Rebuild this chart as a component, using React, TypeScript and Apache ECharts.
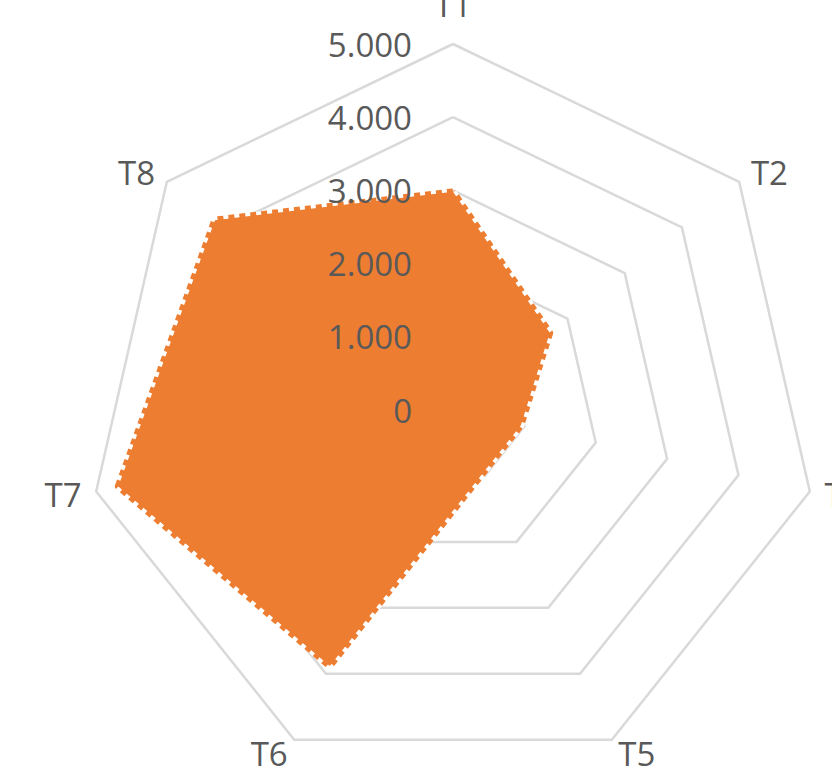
import { useEffect, useRef } from 'react';
import * as echarts from 'echarts';

const categories = ['T1', 'T2', 'T3', 'T5', 'T6', 'T7', 'T8'];
const values = [2980, 1690, 950, 950, 3880, 4690, 4160];
const maxValue = 5000;
const tickInterval = 1000;

const fmt = (v: number) => (v === 0 ? '0' : String(v).replace(/\B(?=(\d{3})+(?!\d))/g, '.'));

export default function App() {
  const ref = useRef<HTMLDivElement>(null);
  useEffect(() => {
    document.body.style.margin = '0';
    const chart = echarts.init(ref.current!, null, { renderer: 'svg' });
    const font = '"Open Sans", sans-serif';
    // ECharts lays radar axes counter-clockwise; reorder so they run clockwise like the reference
    const order = [0, ...categories.map((_, i) => i).slice(1).reverse()];
    const names = order.map((i) => categories[i]);
    const vals = order.map((i) => values[i]);
    const splitNumber = maxValue / tickInterval;

    chart.setOption({
      animation: false,
      backgroundColor: '#ffffff',
      radar: [
        {
          z: 0,
          center: [453, 410],
          radius: 366,
          startAngle: 90,
          splitNumber,
          shape: 'polygon',
          axisName: {
            color: '#595959',
            fontSize: 33,
            fontFamily: font,
            formatter: (name: string) => (name === categories[0] ? `{top|${name}}` : name),
            rich: {
              top: { color: '#595959', fontSize: 33, fontFamily: font, padding: [0, 0, 8, 0] },
            },
          },
          axisNameGap: 15,
          axisLine: { show: false },
          axisTick: { show: false },
          axisLabel: { show: false },
          splitLine: { lineStyle: { color: '#d9d9d9', width: 2.5 } },
          splitArea: { show: false },
          indicator: names.map((name) => ({ name, min: 0, max: maxValue })),
        },
        {
          z: 10,
          center: [453, 410],
          radius: 366,
          startAngle: 90,
          splitNumber,
          shape: 'polygon',
          axisName: { show: false },
          axisLine: { show: false },
          axisTick: { show: false },
          axisLabel: { show: false },
          splitLine: { show: false },
          splitArea: { show: false },
          indicator: names.map((name, i) => ({
            name,
            min: 0,
            max: maxValue,
            ...(i === 0
              ? {
                  axisLabel: {
                    show: true,
                    color: '#595959',
                    fontSize: 33,
                    fontFamily: font,
                    margin: 41,
                    formatter: (v: number) => fmt(v),
                  },
                }
              : {}),
          })),
        },
      ],
      series: [
        {
          type: 'radar',
          radarIndex: 0,
          z: 2,
          symbol: 'none',
          areaStyle: { color: '#ED7D31', opacity: 1 },
          lineStyle: { color: '#ffffff', width: 7, type: 'solid' },
          data: [{ value: vals, name: 'Serie' }],
        },
        {
          type: 'radar',
          radarIndex: 0,
          z: 3,
          symbol: 'none',
          lineStyle: { color: '#ED7D31', width: 7, type: [6, 5], cap: 'butt' },
          data: [{ value: vals, name: 'Serie' }],
        },
      ],
    });
    return () => chart.dispose();
  }, []);
  return <div ref={ref} style={{ position: 'fixed', left: 0, top: 0, width: 832, height: 769 }} />;
}
